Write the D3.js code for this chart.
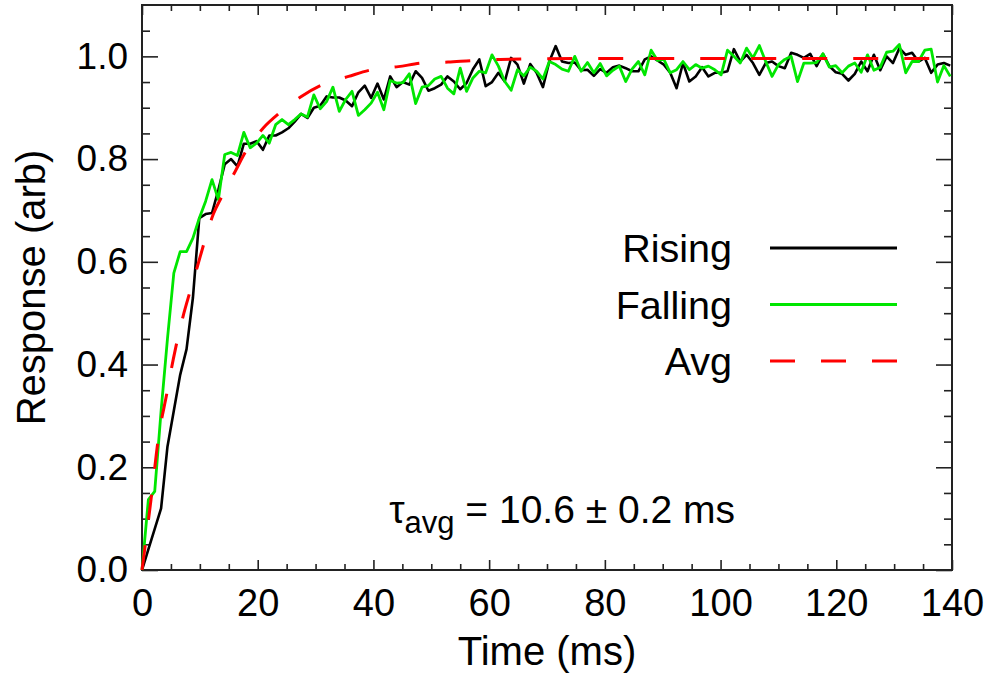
<!DOCTYPE html>
<html>
<head>
<meta charset="utf-8">
<script src="https://cdn.jsdelivr.net/npm/d3@7"></script>
<style>
  body { margin: 0; background: #fff; }
  svg text { font-family: "Liberation Sans", Arial, Helvetica, sans-serif; fill: #000; }
</style>
</head>
<body>
<div id="chart"></div>
<script>
// sample times (ms)
const timeMs = [
  0, 1.1, 2.2, 3.3, 4.4, 5.5, 6.6, 7.7, 8.8, 9.9,
  11, 12.1, 13.2, 14.3, 15.4, 16.5, 17.6, 18.7, 19.8, 20.9,
  22, 23.1, 24.2, 25.3, 26.4, 27.5, 28.6, 29.7, 30.8, 31.9,
  33, 34.1, 35.2, 36.3, 37.4, 38.5, 39.6, 40.7, 41.8, 42.9,
  44, 45.1, 46.2, 47.3, 48.4, 49.5, 50.6, 51.7, 52.8, 53.9,
  55, 56.1, 57.2, 58.3, 59.4, 60.5, 61.6, 62.7, 63.8, 64.9,
  66, 67.1, 68.2, 69.3, 70.4, 71.5, 72.6, 73.7, 74.8, 75.9,
  77, 78.1, 79.2, 80.3, 81.4, 82.5, 83.6, 84.7, 85.8, 86.9,
  88, 89.1, 90.2, 91.3, 92.4, 93.5, 94.6, 95.7, 96.8, 97.9,
  99, 100.1, 101.2, 102.3, 103.4, 104.5, 105.6, 106.7, 107.8, 108.9,
  110, 111.1, 112.2, 113.3, 114.4, 115.5, 116.6, 117.7, 118.8, 119.9,
  121, 122.1, 123.2, 124.3, 125.4, 126.5, 127.6, 128.7, 129.8, 130.9,
  132, 133.1, 134.2, 135.3, 136.4, 137.5, 138.6, 139.7
];

const rising = [
  0.00, 0.04, 0.08, 0.12, 0.24, 0.31, 0.38, 0.43, 0.53, 0.685,
  0.693, 0.695, 0.74, 0.79, 0.80, 0.786, 0.83, 0.83, 0.835, 0.818,
  0.846, 0.846, 0.852, 0.86, 0.873, 0.888, 0.88, 0.90, 0.904, 0.922,
  0.92, 0.92, 0.914, 0.903, 0.93, 0.943, 0.919, 0.947, 0.916, 0.961,
  0.94, 0.95, 0.945, 0.971, 0.958, 0.933, 0.938, 0.945, 0.961, 0.951,
  0.936, 0.948, 0.975, 0.994, 0.942, 0.95, 0.968, 0.951, 0.997, 0.984,
  0.947, 0.985, 0.968, 0.94, 0.99, 1.02, 0.99, 0.987, 0.988, 0.973,
  0.974, 0.962, 0.975, 0.968, 0.979, 0.982, 0.977, 0.971, 0.971, 0.994,
  1.0, 0.992, 0.984, 0.968, 0.938, 0.987, 0.951, 0.961, 0.979, 0.961,
  0.968, 0.968, 0.971, 1.014, 0.99, 1.003, 0.987, 0.964, 0.987, 0.99,
  0.981, 0.977, 1.007, 1.003, 0.997, 1.005, 0.981, 1.005, 0.981, 0.969,
  0.966, 0.953, 0.966, 0.99, 0.971, 1.003, 0.973, 1.0, 0.987, 1.016,
  1.003, 1.007, 0.99, 0.997, 0.968, 0.984, 0.987, 0.982
];

const falling = [
  0.00, 0.137, 0.153, 0.31, 0.45, 0.578, 0.62, 0.62, 0.646, 0.685,
  0.718, 0.76, 0.721, 0.809, 0.813, 0.807, 0.852, 0.822, 0.831, 0.846,
  0.831, 0.867, 0.877, 0.867, 0.877, 0.888, 0.882, 0.925, 0.898, 0.912,
  0.94, 0.893, 0.916, 0.932, 0.885, 0.896, 0.909, 0.93, 0.896, 0.953,
  0.948, 0.949, 0.966, 0.908, 0.94, 0.943, 0.956, 0.961, 0.938, 0.927,
  0.977, 0.932, 0.958, 0.971, 0.968, 1.003, 0.981, 0.951, 0.934, 0.974,
  0.962, 0.979, 0.971, 0.956, 0.99, 0.984, 0.975, 0.971, 1.0, 0.971,
  0.988, 0.968, 0.986, 0.962, 0.973, 0.981, 0.951, 0.975, 0.99, 0.964,
  1.012, 0.992, 0.994, 0.968, 0.974, 0.99, 0.974, 0.984, 0.977, 0.981,
  0.974, 0.964, 1.012, 1.0, 0.987, 1.016, 0.997, 1.021, 0.99, 0.961,
  0.984, 0.994, 1.0, 0.951, 0.987, 0.987, 0.988, 1.005, 0.979, 0.982,
  0.968, 0.981, 0.987, 0.969, 1.003, 0.973, 0.979, 1.008, 1.01, 1.023,
  0.968, 0.99, 0.99, 1.012, 1.014, 0.95, 0.982, 0.961
];

// averaged fit curve
const avgTime = [0, 1.7, 2.8, 4.3, 5.4, 7.1, 8.3, 9.5, 10.9, 12.3, 13.8, 16.1, 18.1, 21, 23.9,
  27.4, 31.2, 35.7, 39.7, 44.3, 48.5, 52.9, 57.3, 61.9, 66.2, 80, 100, 120, 140];
const avgVal = [0, 0.15, 0.254, 0.344, 0.41, 0.494, 0.542, 0.588, 0.643, 0.692, 0.727, 0.776, 0.818, 0.861, 0.891,
  0.921, 0.945, 0.961, 0.974, 0.98, 0.987, 0.989, 0.992, 0.994, 0.995, 0.996, 0.996, 0.996, 0.996];

const xMajor = [0, 20, 40, 60, 80, 100, 120, 140];
const yMajor = [0, 0.2, 0.4, 0.6, 0.8, 1.0];

const legendLabels = ["Rising", "Falling", "Avg"];

const width = 990, height = 674;
const margin = { top: 5, right: 38, bottom: 104, left: 142 };
const w = width - margin.left - margin.right;
const h = height - margin.top - margin.bottom;

const svg = d3.select('#chart').append('svg')
    .attr('width', width)
    .attr('height', height);

const g = svg.append('g').attr('transform', `translate(${margin.left},${margin.top})`);

const x = d3.scaleLinear().domain([0, 140]).range([0, w]);
const y = d3.scaleLinear().domain([0, 1.1]).range([h, 0]);

const xMinor = d3.range(0, 141, 5).filter(v => v % 20 !== 0);
const yMinor = d3.range(0, 1.1, 0.05).filter(v => Math.abs(v * 5 - Math.round(v * 5)) > 1e-6);

const tickColor = '#222';

function styleAxis(sel) {
    sel.select('.domain').remove();
    sel.selectAll('line').attr('stroke', tickColor).attr('stroke-width', 1.6);
}

// bottom axis
g.append('g').attr('transform', `translate(0,${h})`)
    .call(d3.axisBottom(x).tickValues(xMajor).tickSizeInner(-10).tickSizeOuter(0).tickPadding(19).tickFormat(d3.format('d')))
    .call(styleAxis)
    .call(s => s.selectAll('text').attr('font-size', 38).attr('dy', '0.71em'));
g.append('g').attr('transform', `translate(0,${h})`)
    .call(d3.axisBottom(x).tickValues(xMinor).tickSizeInner(-6).tickSizeOuter(0).tickFormat(''))
    .call(styleAxis);

// top axis
g.append('g')
    .call(d3.axisTop(x).tickValues(xMajor).tickSizeInner(-10).tickSizeOuter(0).tickFormat(''))
    .call(styleAxis);
g.append('g')
    .call(d3.axisTop(x).tickValues(xMinor).tickSizeInner(-6).tickSizeOuter(0).tickFormat(''))
    .call(styleAxis);

// left axis
g.append('g')
    .call(d3.axisLeft(y).tickValues(yMajor).tickSizeInner(-16).tickSizeOuter(0).tickPadding(14).tickFormat(d3.format('.1f')))
    .call(styleAxis)
    .call(s => s.selectAll('text').attr('font-size', 37));
g.append('g')
    .call(d3.axisLeft(y).tickValues(yMinor).tickSizeInner(-8).tickSizeOuter(0).tickFormat(''))
    .call(styleAxis);

// right axis
g.append('g').attr('transform', `translate(${w},0)`)
    .call(d3.axisRight(y).tickValues(yMajor).tickSizeInner(-16).tickSizeOuter(0).tickFormat(''))
    .call(styleAxis);
g.append('g').attr('transform', `translate(${w},0)`)
    .call(d3.axisRight(y).tickValues(yMinor).tickSizeInner(-8).tickSizeOuter(0).tickFormat(''))
    .call(styleAxis);

// frame
g.append('rect')
    .attr('width', w).attr('height', h)
    .attr('fill', 'none')
    .attr('stroke', tickColor)
    .attr('stroke-width', 2);

const line = d3.line()
    .x(d => x(d[0]))
    .y(d => y(d[1]));

g.append('path')
    .datum(timeMs.map((t, i) => [t, rising[i]]))
    .attr('fill', 'none')
    .attr('stroke', '#000')
    .attr('stroke-width', 2.6)
    .attr('stroke-linejoin', 'round')
    .attr('d', line);

g.append('path')
    .datum(timeMs.map((t, i) => [t, falling[i]]))
    .attr('fill', 'none')
    .attr('stroke', '#00e600')
    .attr('stroke-width', 2.8)
    .attr('stroke-linejoin', 'round')
    .attr('d', line);

g.append('path')
    .datum(avgTime.map((t, i) => [t, avgVal[i]]))
    .attr('fill', 'none')
    .attr('stroke', '#f00')
    .attr('stroke-width', 3)
    .attr('stroke-dasharray', '25,26')
    .attr('d', line.curve(d3.curveMonotoneX));

// legend
const legendColors = ['#000', '#00e600', '#f00'];
const legend = svg.append('g');
legendLabels.forEach((lab, i) => {
    const ly = 248 + i * 56.5;
    legend.append('text')
        .attr('x', 732).attr('y', ly)
        .attr('dy', '0.36em')
        .attr('text-anchor', 'end')
        .attr('font-size', 39.5)
        .text(lab);
    legend.append('line')
        .attr('x1', 770).attr('x2', 897)
        .attr('y1', ly).attr('y2', ly)
        .attr('stroke', legendColors[i])
        .attr('stroke-width', i === 2 ? 3 : 2.8)
        .attr('stroke-dasharray', i === 2 ? '25,26' : null);
});

// annotation
const ann = svg.append('text')
    .attr('x', 735).attr('y', 523)
    .attr('text-anchor', 'end')
    .attr('font-size', 39);
ann.append('tspan').text('\u03c4');
ann.append('tspan').attr('font-size', 31).attr('dy', 10).text('avg');
ann.append('tspan').attr('dy', -10).text(' = 10.6 \u00b1 0.2 ms');

// axis titles
svg.append('text')
    .attr('x', margin.left + w / 2).attr('y', 665)
    .attr('text-anchor', 'middle')
    .attr('font-size', 40)
    .text('Time (ms)');

svg.append('text')
    .attr('transform', `translate(45,${margin.top + h / 2}) rotate(-90)`)
    .attr('text-anchor', 'middle')
    .attr('font-size', 40)
    .text('Response (arb)');
</script>
</body>
</html>
